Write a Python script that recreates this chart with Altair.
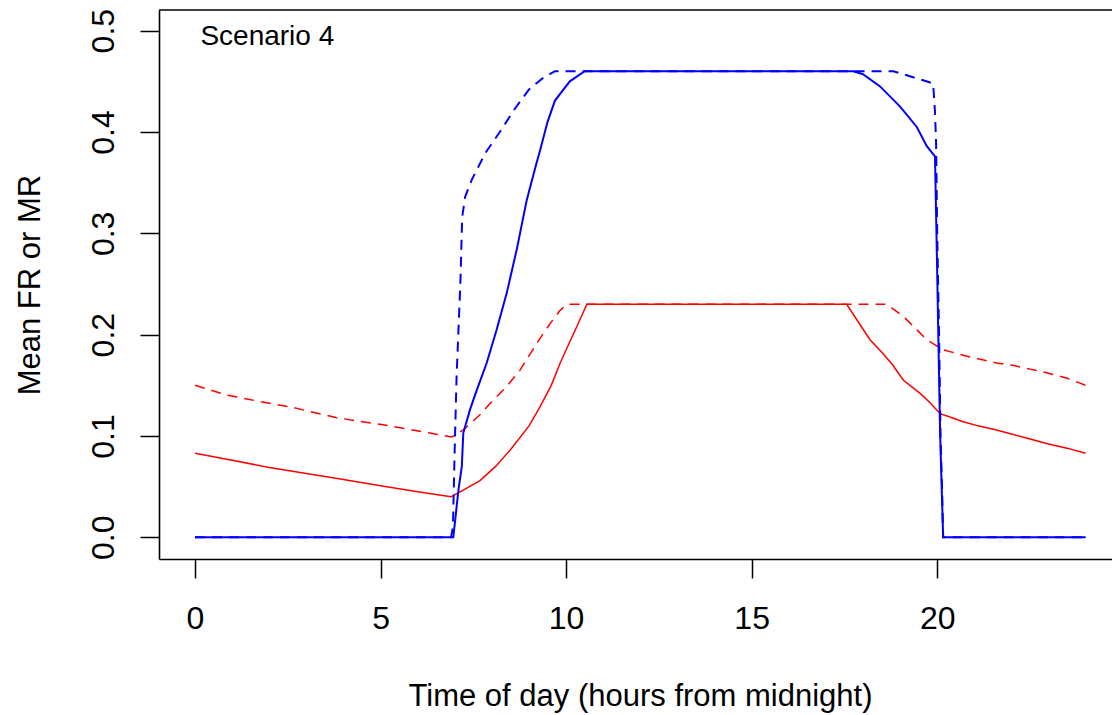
import altair as alt
import pandas as pd

# ---------------- data ----------------
red_solid_h = [0, 1, 2, 3, 4, 5, 6, 6.9, 7.05, 7.3, 7.68, 8.1, 8.49, 9.0, 9.3, 9.6, 9.84, 10.1, 10.29, 10.56,
               17.56, 17.9, 18.19, 18.55, 18.8, 19.09, 19.54, 19.8, 20.08, 20.4, 20.7, 21.1, 21.6, 22.0, 22.5, 23.0, 23.5, 24.0]
red_solid_v = [0.083, 0.076, 0.069, 0.063, 0.057, 0.051, 0.045, 0.040, 0.043, 0.048, 0.056, 0.070, 0.086, 0.110, 0.129, 0.150, 0.172, 0.193, 0.208, 0.230,
               0.230, 0.211, 0.195, 0.181, 0.170, 0.155, 0.142, 0.133, 0.122, 0.118, 0.114, 0.110, 0.106, 0.102, 0.097, 0.092, 0.088, 0.083]

red_dash_h = [0, 0.85, 1.75, 2.65, 3.82, 5.07, 6.33, 6.92, 7.23, 7.68, 7.95, 8.4, 8.76, 9.2, 9.57, 9.84, 10.02,
              18.64, 19.09, 19.72, 20.16, 20.88, 21.6, 22.0, 22.5, 23.0, 23.5, 24.0]
red_dash_v = [0.150, 0.1405, 0.134, 0.128, 0.118, 0.111, 0.103, 0.099, 0.106, 0.121, 0.132, 0.149, 0.165, 0.191, 0.211, 0.224, 0.230,
              0.230, 0.218, 0.195, 0.185, 0.178, 0.172, 0.170, 0.166, 0.162, 0.157, 0.150]

blue_solid_h = [0, 6.96, 7.02, 7.1, 7.19, 7.23, 7.41, 7.59, 7.86, 8.13, 8.4, 8.67, 8.94, 9.2, 9.3, 9.5, 9.7, 10.1, 10.5,
                17.74, 18.0, 18.46, 19.0, 19.45, 19.72, 19.94, 19.98, 20.03, 20.08, 20.12, 20.16, 24.0]
blue_solid_v = [0.0, 0.0, 0.02, 0.047, 0.070, 0.103, 0.126, 0.145, 0.172, 0.205, 0.241, 0.284, 0.333, 0.369, 0.382, 0.410, 0.431, 0.450, 0.460,
                0.460, 0.457, 0.445, 0.425, 0.405, 0.386, 0.376, 0.300, 0.200, 0.100, 0.050, 0.0, 0.0]

blue_dash_h = [0, 6.9, 6.95, 7.0, 7.05, 7.15, 7.2, 7.28, 7.46, 7.82, 8.25, 8.6, 9.0, 9.4, 9.7,
               18.82, 19.18, 19.62, 19.89, 19.94, 19.97, 20.0, 20.05, 20.09, 20.13, 20.16, 24.0]
blue_dash_v = [0.0, 0.0, 0.01, 0.09, 0.16, 0.25, 0.316, 0.336, 0.353, 0.379, 0.402, 0.422, 0.442, 0.454, 0.460,
               0.460, 0.456, 0.451, 0.448, 0.420, 0.389, 0.300, 0.200, 0.100, 0.050, 0.0, 0.0]

x_ticks = [0, 5, 10, 15, 20]
y_ticks = [0.0, 0.1, 0.2, 0.3, 0.4, 0.5]
annot_text = ["Scenario 4"]
annot_h = [0.145]
annot_v = [0.486]

X_DOMAIN = [-0.97, 24.71]
Y_DOMAIN = [-0.0214, 0.5204]
FONT = "Liberation Sans"

x_axis = alt.Axis(values=x_ticks, format="d", grid=False, tickSize=19, tickWidth=1.5, tickColor="black",
                  domainColor="black", domainWidth=1.6, labelFont=FONT, labelFontSize=32, labelColor="black",
                  labelBaseline="alphabetic", labelPadding=50, labelFlush=False, labelOverlap=False,
                  title="Time of day (hours from midnight)", titleFont=FONT, titleFontSize=31,
                  titleFontWeight="normal", titleColor="black", titleBaseline="alphabetic",
                  titleAlign="center", titleX=481, titleY=146)
y_axis = alt.Axis(values=y_ticks, format=".1f", grid=False, tickSize=19, tickWidth=1.5, tickColor="black",
                  domainColor="black", domainWidth=1.6, labelFont=FONT, labelFontSize=32, labelColor="black",
                  labelAngle=270, labelAlign="center", labelBaseline="alphabetic", labelPadding=27,
                  labelFlush=False, labelOverlap=False,
                  title="Mean FR or MR", titleFont=FONT, titleFontSize=31, titleFontWeight="normal",
                  titleColor="black", titleAngle=270, titleAlign="center", titleBaseline="alphabetic",
                  titleX=-120, titleY=274.6)
x_scale = alt.Scale(domain=X_DOMAIN, nice=False, zero=False)
y_scale = alt.Scale(domain=Y_DOMAIN, nice=False, zero=False)


def series_layer(hs, vs, color, width, dash=None):
    df = pd.DataFrame({"h": hs, "v": vs})
    kw = {"color": color, "strokeWidth": width}
    if dash:
        kw["strokeDash"] = dash
    return alt.Chart(df).mark_line(**kw).encode(
        x=alt.X("h:Q", scale=x_scale, axis=x_axis),
        y=alt.Y("v:Q", scale=y_scale, axis=y_axis),
    )


red_solid = series_layer(red_solid_h, red_solid_v, "#ff0000", 1.5)
red_dash = series_layer(red_dash_h, red_dash_v, "#ff0000", 1.5, dash=[10, 7])
blue_dash = series_layer(blue_dash_h, blue_dash_v, "#0000ff", 2, dash=[10, 7])
blue_solid = series_layer(blue_solid_h, blue_solid_v, "#0000ff", 2)

annot_df = pd.DataFrame({"t": annot_text, "h": annot_h, "v": annot_v})
annot = alt.Chart(annot_df).mark_text(font=FONT, fontSize=28, color="black", align="left",
                                      baseline="alphabetic").encode(
    x=alt.X("h:Q", scale=x_scale, axis=x_axis),
    y=alt.Y("v:Q", scale=y_scale, axis=y_axis),
    text="t:N",
)

# top edge of the plot box (y at the top of the scale domain)
top_df = pd.DataFrame({"v": [Y_DOMAIN[1]]})
top_border = alt.Chart(top_df).mark_rule(color="black", strokeWidth=1.6).encode(
    y=alt.Y("v:Q", scale=y_scale, axis=y_axis)
)

chart = alt.layer(red_solid, red_dash, blue_dash, blue_solid, annot, top_border).properties(
    width=953, height=549,
    autosize=alt.AutoSizeParams(type="none"),
    padding={"left": 159, "top": 10, "right": 0, "bottom": 156},
    background="white",
).configure_view(stroke=None)

chart.save("out.html", embed_options={"renderer": "svg", "actions": False})
